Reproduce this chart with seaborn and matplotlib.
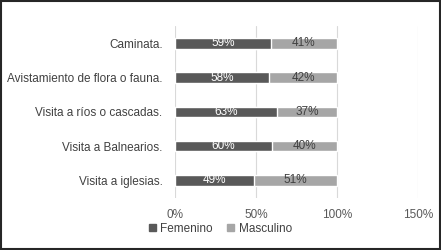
import matplotlib
matplotlib.use("Agg")
import matplotlib.pyplot as plt
import seaborn as sns
import pandas as pd
from matplotlib.patches import Patch, Rectangle

categories = ["Caminata.", "Avistamiento de flora o fauna.", "Visita a ríos o cascadas.",
              "Visita a Balnearios.", "Visita a iglesias."]
femenino = [59, 58, 63, 60, 49]
masculino = [41, 42, 37, 40, 51]
xticks = [0, 50, 100, 150]
xtick_labels = ["0%", "50%", "100%", "150%"]

DARK = "#595959"
LIGHT = "#a6a6a6"
TXT = "#595959"

sns.set_theme(style="white")
plt.rcParams["font.family"] = ["Liberation Sans", "DejaVu Sans"]

df = pd.DataFrame({"cat": categories, "fem": femenino, "masc": masculino})
df["total"] = df["fem"] + df["masc"]

fig = plt.figure(figsize=(4.41, 2.50), dpi=100)
ax = fig.add_axes([0.397, 0.21, 0.551, 0.685])

# grid first
for t in xticks:
    ax.axvline(t, color="#d9d9d9", lw=0.8, zorder=0)

sns.barplot(data=df, x="total", y="cat", orient="h", color=LIGHT, width=0.31,
            saturation=1, ax=ax, zorder=2)
sns.barplot(data=df, x="fem", y="cat", orient="h", color=DARK, width=0.31,
            saturation=1, ax=ax, zorder=3)

for i, (f, m) in enumerate(zip(femenino, masculino)):
    ax.text(f / 2, i, f"{f}%", ha="center", va="center", color="white", fontsize=8.5, zorder=4)
    ax.text(f + m / 2, i, f"{m}%", ha="center", va="center", color="#404040", fontsize=8.5, zorder=4)

ax.set_xlim(0, 150)
ax.set_ylim(4.5, -0.5)
ax.set_xticks(xticks)
ax.set_xticklabels(xtick_labels, color=TXT, fontsize=8.5)
ax.tick_params(axis="y", labelsize=8.5, labelcolor="#404040", length=0, pad=9)
ax.tick_params(axis="x", length=0, pad=8)
ax.set_xlabel("")
ax.set_ylabel("")
for s in ax.spines.values():
    s.set_visible(False)

handles = [Patch(color=DARK, label="Femenino"), Patch(color=LIGHT, label="Masculino")]
fig.legend(handles=handles, loc="center", bbox_to_anchor=(0.5, 0.085), ncol=2, frameon=False,
           fontsize=8.5, handlelength=0.6, handleheight=0.6, columnspacing=1.2, handletextpad=0.4,
           labelcolor="#404040")

fig.patches.append(Rectangle((0.002, 0.004), 0.996, 0.992, transform=fig.transFigure,
                             fill=False, edgecolor="#262626", lw=1.5))

fig.savefig("out.png", dpi=100)
